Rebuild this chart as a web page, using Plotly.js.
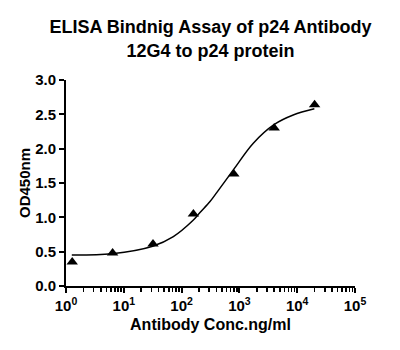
<!DOCTYPE html>
<html>
<head>
<meta charset="utf-8">
<script src="https://cdn.plot.ly/plotly-3.0.1.min.js"></script>
<style>html,body{margin:0;padding:0;background:#fff;}#chart{width:400px;height:350px;}</style>
</head>
<body>
<div id="chart"></div>
<script>
// Measured data points (antibody concentration, ng/ml vs OD450)
var conc = [1.28, 6.4, 32, 160, 800, 4000, 20000];
var od450 = [0.35, 0.48, 0.61, 1.05, 1.63, 2.30, 2.64];

// Fitted curve
var curveConc = [1.26, 6.25, 31.6, 72, 155, 208, 310, 405, 784, 1740, 3970, 8530, 19800];
var curveOD = [0.45, 0.47, 0.58, 0.72, 0.95, 1.07, 1.23, 1.36, 1.69, 2.08, 2.35, 2.49, 2.58];

var xTickVals = [1, 10, 100, 1000, 10000, 100000];
var xTickText = ['10<sup>0</sup>', '10<sup>1</sup>', '10<sup>2</sup>', '10<sup>3</sup>', '10<sup>4</sup>', '10<sup>5</sup>'];
var yTickVals = [0, 0.5, 1.0, 1.5, 2.0, 2.5, 3.0];
var yTickText = ['0.0', '0.5', '1.0', '1.5', '2.0', '2.5', '3.0'];

var font = 'Liberation Sans, Arial, sans-serif';

var traces = [
  {x: curveConc, y: curveOD, mode: 'lines', type: 'scatter',
   line: {color: '#000', width: 1.5, shape: 'spline'}, hoverinfo: 'skip'},
  {x: conc, y: od450, mode: 'markers', type: 'scatter',
   marker: {symbol: 'triangle-up', size: 10, color: '#000'}}
];

var layout = {
  width: 400, height: 350,
  margin: {l: 66, r: 45, t: 80, b: 64},
  paper_bgcolor: '#fff', plot_bgcolor: '#fff',
  showlegend: false,
  title: {text: 'ELISA Bindnig Assay of p24 Antibody<br>12G4 to p24 protein',
          font: {family: font, size: 18, color: '#000', weight: 'bold'},
          x: 0.5, xref: 'paper', xanchor: 'center', y: 0.905, yref: 'container', yanchor: 'top'},
  xaxis: {type: 'log', range: [0, 5], showgrid: false, zeroline: false,
          showline: true, linecolor: '#000', linewidth: 2,
          ticks: 'outside', ticklen: 5, tickwidth: 2, tickcolor: '#000',
          tickvals: xTickVals, ticktext: xTickText,
          tickfont: {family: font, size: 15, color: '#000', weight: 'bold'},
          minor: {ticks: 'outside', ticklen: 4, tickwidth: 1.5, tickcolor: '#000', dtick: 'D1', showgrid: false},
          title: {text: 'Antibody Conc.ng/ml', standoff: 6,
                  font: {family: font, size: 16, color: '#000', weight: 'bold'}}},
  yaxis: {range: [0, 3], showgrid: false, zeroline: false,
          showline: true, linecolor: '#000', linewidth: 2,
          ticks: 'outside', ticklen: 5, tickwidth: 2, tickcolor: '#000',
          tickvals: yTickVals, ticktext: yTickText,
          tickfont: {family: font, size: 15, color: '#000', weight: 'bold'},
          title: {text: 'OD450nm', standoff: 1,
                  font: {family: font, size: 15, color: '#000', weight: 'bold'}}}
};

Plotly.newPlot('chart', traces, layout, {displayModeBar: false, staticPlot: true});
</script>
</body>
</html>
